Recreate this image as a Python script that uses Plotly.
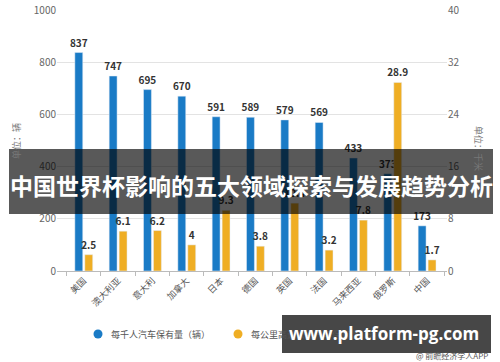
import plotly.graph_objects as go

categories = ["美国", "澳大利亚", "意大利", "加拿大", "日本", "德国", "英国", "法国", "马来西亚", "俄罗斯", "中国"]
cars_per_thousand = [837, 747, 695, 670, 591, 589, 579, 569, 433, 373, 173]
cars_per_km = [2.5, 6.1, 6.2, 4, 9.3, 3.8, 10.4, 3.2, 7.8, 28.9, 1.7]
left_ticks = [0, 200, 400, 600, 800, 1000]
right_ticks = [0, 8, 16, 24, 32, 40]
legend_names = ["每千人汽车保有量（辆）", "每公里高速公路汽车保有量（辆）"]

BLUE = "#1a7bc6"
ORANGE = "#efae24"
FONT = "Noto Sans CJK SC"

L, R, T, B = 57, 53, 10, 91
PW, PH = 500 - L - R, 362 - T - B


def px(x):
    return (x - L) / PW


def py(y):
    return (362 - B - y) / PH


def note(x, y, text, size, color, family=FONT, xanchor="center", angle=0):
    fig.add_annotation(xref="paper", yref="paper", x=px(x), y=py(y), text=text,
                       xanchor=xanchor, yanchor="middle", textangle=angle, showarrow=False,
                       font=dict(size=size, color=color, family=family))


fig = go.Figure()
fig.add_trace(go.Bar(
    x=categories, y=cars_per_thousand, name=legend_names[0],
    marker_color=BLUE, width=0.23, offset=-0.26, offsetgroup="a",
    text=[str(v) for v in cars_per_thousand], texttemplate="<b>%{text}</b>",
    textposition="outside", constraintext="none",
    textfont=dict(size=10, color="#333333", family=FONT), cliponaxis=False,
    showlegend=False, yaxis="y"))
fig.add_trace(go.Bar(
    x=categories, y=cars_per_km, name=legend_names[1],
    marker_color=ORANGE, width=0.23, offset=0.03, offsetgroup="b",
    text=[str(v) for v in cars_per_km], texttemplate="<b>%{text}</b>",
    textposition="outside", constraintext="none",
    textfont=dict(size=10, color="#333333", family=FONT), cliponaxis=False,
    showlegend=False, yaxis="y2"))

fig.update_layout(
    width=500, height=362,
    margin=dict(l=L, r=R, t=T, b=B, autoexpand=False),
    paper_bgcolor="white", plot_bgcolor="white",
    font=dict(family=FONT, color="#666666", size=9),
    barmode="group", showlegend=False,
    xaxis=dict(range=[-0.78, 10.58], tickangle=-45, showgrid=False,
               showline=True, linecolor="#bbbbbb", ticks="outside", tickson="boundaries",
               ticklen=4, tickcolor="#bbbbbb", tickfont=dict(size=9, color="#555555")),
    yaxis=dict(range=[0, 1000], tickvals=left_ticks, showgrid=True, gridcolor="#e3e3e3",
               zeroline=False, tickfont=dict(size=10, color="#666666")),
    yaxis2=dict(range=[0, 40], tickvals=right_ticks, overlaying="y", side="right",
                showgrid=False, zeroline=False, tickfont=dict(size=10, color="#666666")),
)

note(16, 141, "单位：辆", 9, "#777777", angle=-90)
note(479, 148, "单位：千米", 9, "#777777", angle=90)

# manual legend
for cx, color, name in [(98, BLUE, legend_names[0]), (238, ORANGE, legend_names[1])]:
    fig.add_shape(type="circle", xref="paper", yref="paper",
                  x0=px(cx - 4.5), x1=px(cx + 4.5), y0=py(338.5), y1=py(329.5),
                  fillcolor=color, line=dict(width=0))
    note(cx + 11, 334, name, 9, "#555555", xanchor="left")

# overlay banner
fig.add_shape(type="rect", xref="paper", yref="paper",
              x0=px(9), x1=px(493), y0=py(214), y1=py(149),
              fillcolor="rgba(0,0,0,0.65)", line=dict(width=0), layer="above")
note(251, 185, "<b>中国世界杯影响的五大领域探索与发展趋势分析</b>", 23, "white")

note(490, 355, "@ 前瞻经济学人APP", 8, "#555555", xanchor="right")
fig.add_shape(type="rect", xref="paper", yref="paper",
              x0=px(282), x1=px(491), y0=py(353), y1=py(315),
              fillcolor="rgba(0,0,0,0.72)", line=dict(width=0), layer="above")
note(384, 333, "<b>www.platform-pg.com</b>", 17, "white", family="Open Sans")

fig.write_html(
    "out.html",
    config={"displayModeBar": False},
    post_script="document.body.style.margin='0';document.body.style.overflow='hidden';",
)
